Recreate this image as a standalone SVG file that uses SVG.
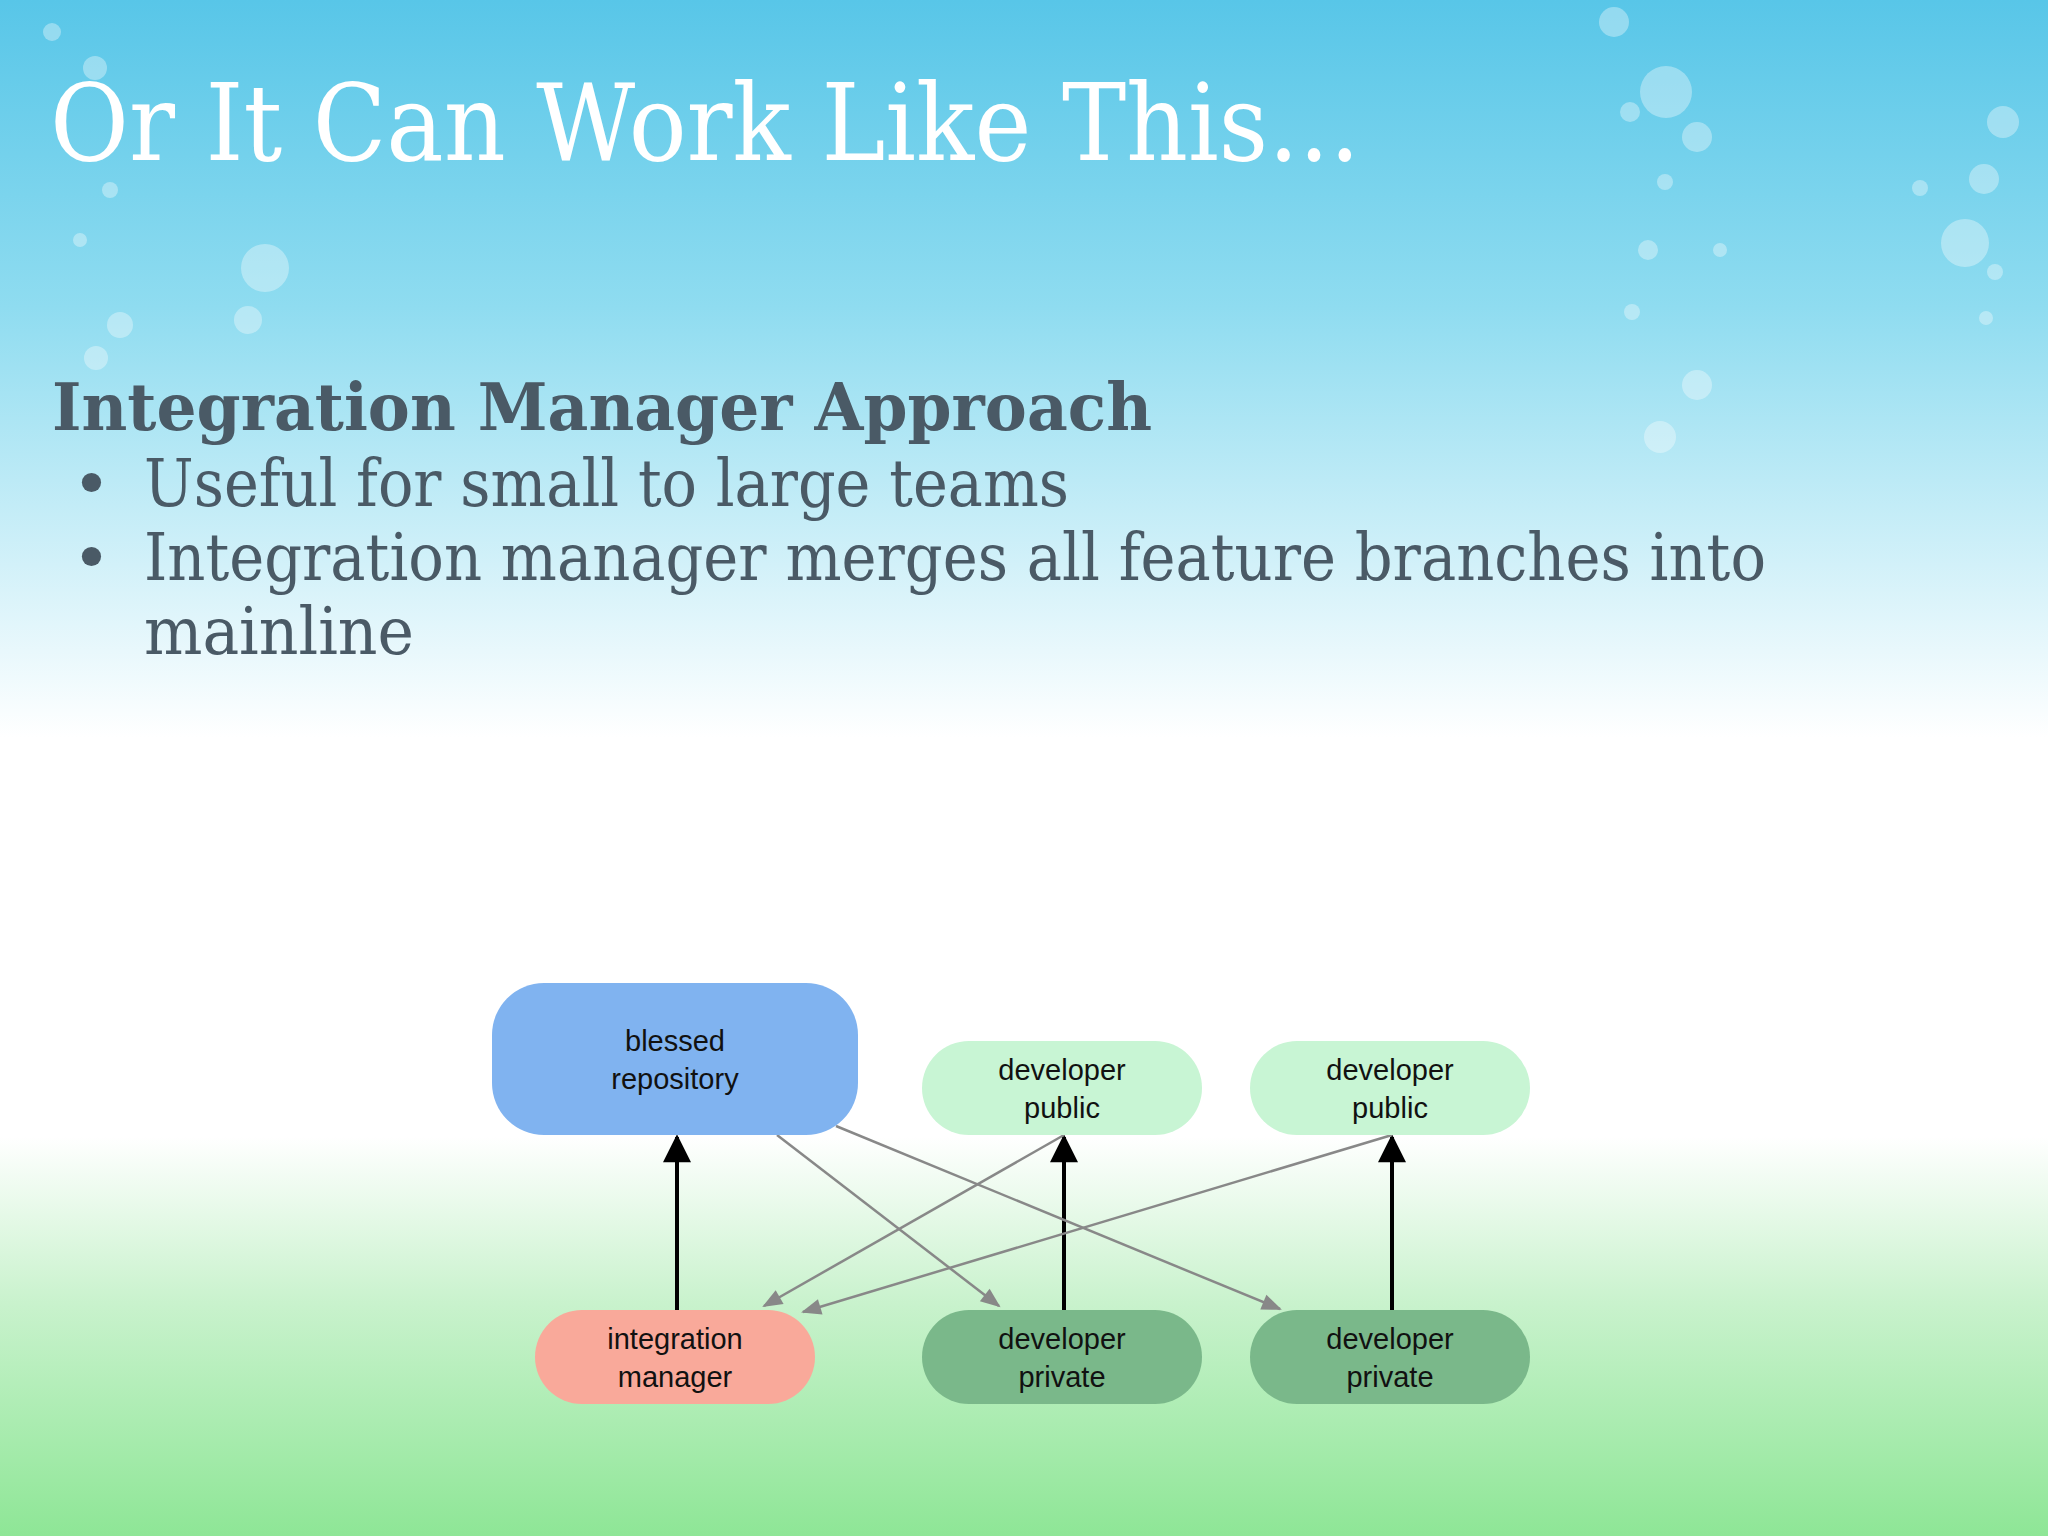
<svg xmlns="http://www.w3.org/2000/svg" width="2048" height="1536" viewBox="0 0 2048 1536">
<defs>
<linearGradient id="bg" x1="0" y1="0" x2="0" y2="1">
<stop offset="0" stop-color="#58c6e8"/>
<stop offset="0.2" stop-color="#8fdcf0"/>
<stop offset="0.48" stop-color="#ffffff"/>
<stop offset="0.74" stop-color="#ffffff"/>
<stop offset="0.85" stop-color="#c8f2cc"/>
<stop offset="1" stop-color="#8ee696"/>
</linearGradient>
<marker id="ab" viewBox="0 0 10 10" refX="9" refY="5" markerWidth="8" markerHeight="7" orient="auto" markerUnits="strokeWidth"><path d="M0,0L10,5L0,10z" fill="#000"/></marker>
<marker id="ag" viewBox="0 0 10 10" refX="9" refY="5" markerWidth="10" markerHeight="8" orient="auto" markerUnits="strokeWidth"><path d="M0,1L10,5L0,9z" fill="#888"/></marker>
</defs>
<style>
.t{font-family:"Liberation Sans",Arial,sans-serif;font-size:29px;fill:#111;text-anchor:middle}
.s{font-family:"DejaVu Serif","Liberation Serif",serif;fill:#4a5a66}
.b{fill:#fff;opacity:0.35}
</style>
<rect width="2048" height="1536" fill="url(#bg)"/>
<g class="b">
<circle cx="52" cy="32" r="9"/><circle cx="95" cy="68" r="12"/><circle cx="110" cy="190" r="8"/><circle cx="120" cy="325" r="13"/><circle cx="265" cy="268" r="24"/><circle cx="248" cy="320" r="14"/><circle cx="96" cy="358" r="12"/><circle cx="80" cy="240" r="7"/>
<circle cx="1614" cy="22" r="15"/><circle cx="1666" cy="92" r="26"/><circle cx="1697" cy="137" r="15"/><circle cx="1630" cy="112" r="10"/><circle cx="1665" cy="182" r="8"/><circle cx="1648" cy="250" r="10"/><circle cx="1697" cy="385" r="15"/><circle cx="1660" cy="437" r="16"/><circle cx="1632" cy="312" r="8"/><circle cx="1720" cy="250" r="7"/>
<circle cx="2003" cy="122" r="16"/><circle cx="1984" cy="179" r="15"/><circle cx="1965" cy="243" r="24"/><circle cx="1995" cy="272" r="8"/><circle cx="1920" cy="188" r="8"/><circle cx="1986" cy="318" r="7"/>
</g>
<text x="50" y="160" font-family="'DejaVu Serif','Liberation Serif',serif" font-size="106" fill="#fff" textLength="1310" lengthAdjust="spacingAndGlyphs">Or It Can Work Like This...</text>
<text class="s" x="52" y="430" font-size="66" font-weight="bold" textLength="1100" lengthAdjust="spacingAndGlyphs">Integration Manager Approach</text>
<text class="s" x="72" y="507" font-size="66" fill="#000">•</text>
<text class="s" x="144" y="506" font-size="66" textLength="925" lengthAdjust="spacingAndGlyphs">Useful for small to large teams</text>
<text class="s" x="72" y="581" font-size="66">•</text>
<text class="s" x="144" y="580" font-size="66" textLength="1622" lengthAdjust="spacingAndGlyphs">Integration manager merges all feature branches into</text>
<text class="s" x="144" y="654" font-size="66" textLength="270" lengthAdjust="spacingAndGlyphs">mainline</text>
<g id="connectors">
<line x1="677" y1="1310" x2="677" y2="1137" stroke="#000" stroke-width="4" marker-end="url(#ab)"/>
<line x1="1064" y1="1310" x2="1064" y2="1137" stroke="#000" stroke-width="4" marker-end="url(#ab)"/>
<line x1="1392" y1="1310" x2="1392" y2="1137" stroke="#000" stroke-width="4" marker-end="url(#ab)"/>
<line x1="777" y1="1135" x2="999" y2="1306" stroke="#888" stroke-width="2.5" marker-end="url(#ag)"/>
<line x1="836" y1="1126" x2="1280" y2="1309" stroke="#888" stroke-width="2.5" marker-end="url(#ag)"/>
<line x1="1064" y1="1135" x2="764" y2="1306" stroke="#888" stroke-width="2.5" marker-end="url(#ag)"/>
<line x1="1392" y1="1135" x2="803" y2="1312" stroke="#888" stroke-width="2.5" marker-end="url(#ag)"/>
</g>
<g id="blessed"><rect x="492" y="983" width="366" height="152" rx="52" fill="#80b3f0"/><text class="t" x="675" y="1051">blessed</text><text class="t" x="675" y="1089">repository</text></g>
<g id="devpub1"><rect x="922" y="1041" width="280" height="94" rx="47" fill="#c8f5d4"/><text class="t" x="1062" y="1080">developer</text><text class="t" x="1062" y="1118">public</text></g>
<g id="devpub2"><rect x="1250" y="1041" width="280" height="94" rx="47" fill="#c8f5d4"/><text class="t" x="1390" y="1080">developer</text><text class="t" x="1390" y="1118">public</text></g>
<g id="intmgr"><rect x="535" y="1310" width="280" height="94" rx="47" fill="#f9a99a"/><text class="t" x="675" y="1349">integration</text><text class="t" x="675" y="1387">manager</text></g>
<g id="devpriv1"><rect x="922" y="1310" width="280" height="94" rx="47" fill="#7ab88a"/><text class="t" x="1062" y="1349">developer</text><text class="t" x="1062" y="1387">private</text></g>
<g id="devpriv2"><rect x="1250" y="1310" width="280" height="94" rx="47" fill="#7ab88a"/><text class="t" x="1390" y="1349">developer</text><text class="t" x="1390" y="1387">private</text></g>
</svg>
